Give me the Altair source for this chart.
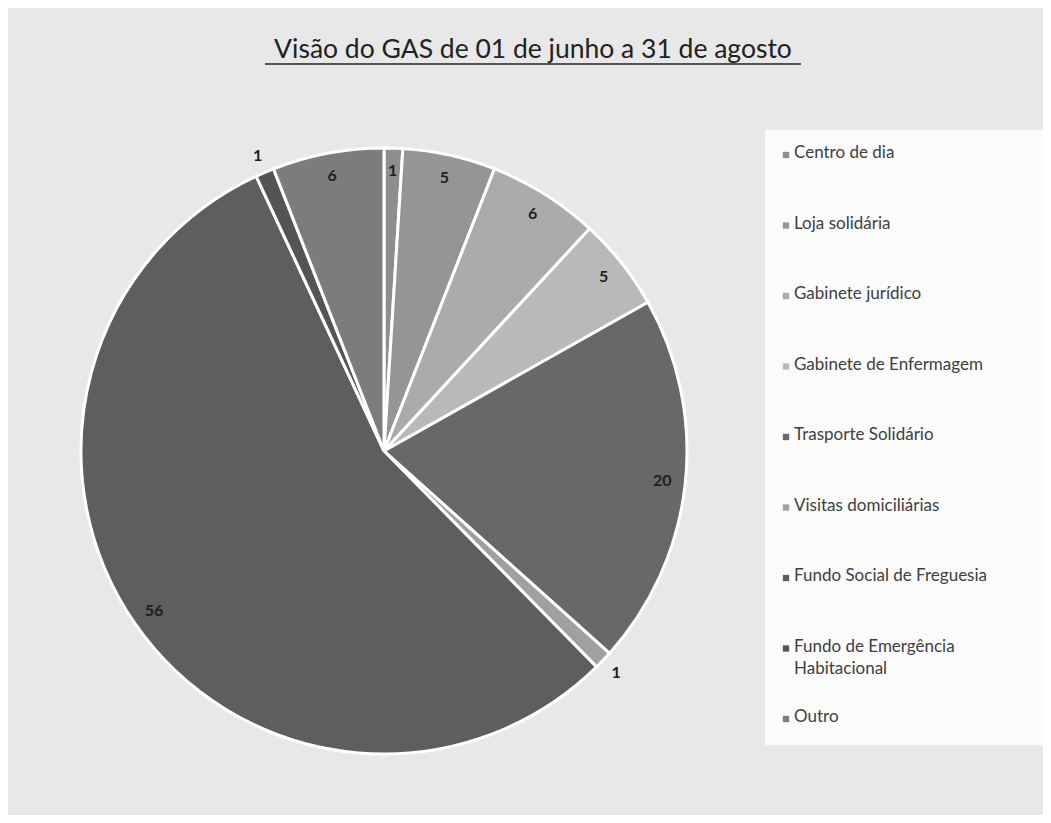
import altair as alt
import pandas as pd

title_text = "Visão do GAS de 01 de junho a 31 de agosto"
categories = [
    "Centro de dia",
    "Loja solidária",
    "Gabinete jurídico",
    "Gabinete de Enfermagem",
    "Trasporte Solidário",
    "Visitas domiciliárias",
    "Fundo Social de Freguesia",
    "Fundo de Emergência Habitacional",
    "Outro",
]
values = [1, 5, 6, 5, 20, 1, 56, 1, 6]
grays = ["#8e8e8e", "#959595", "#ababab", "#b9b9b9", "#686868",
         "#a0a0a0", "#5e5e5e", "#545454", "#7c7c7c"]
outside_labels = ["Visitas domiciliárias", "Fundo de Emergência Habitacional"]

df = pd.DataFrame({"idx": list(range(len(categories))), "category": categories, "value": values})

FONT = "Lato"
CX, CY, R = 376, 443, 303

color = alt.Color("category:N", scale=alt.Scale(domain=categories, range=grays), legend=None)

base = alt.Chart(df).transform_window(
    cum="sum(value)", sort=[alt.SortField("idx")], frame=[None, 0]
).transform_joinaggregate(total="sum(value)").transform_calculate(
    start="(datum.cum - datum.value) / datum.total * 2 * PI",
    end="datum.cum / datum.total * 2 * PI",
).transform_calculate(mid="(datum.start + datum.end) / 2")

arcs = base.mark_arc(outerRadius=R, stroke="white", strokeWidth=3).encode(
    theta=alt.Theta("start:Q", scale=None),
    theta2="end:Q",
    color=color,
    x=alt.value(CX), y=alt.value(CY),
)

label_style = dict(fontSize=16, fontWeight="bold", font=FONT, color="#1e1e1e")
inside = base.transform_filter(
    ~alt.FieldOneOfPredicate(field="category", oneOf=outside_labels)
).mark_text(radius=280, **label_style).encode(
    theta=alt.Theta("mid:Q", scale=None), text="value:Q",
    x=alt.value(CX), y=alt.value(CY),
)
outside = base.transform_filter(
    alt.FieldOneOfPredicate(field="category", oneOf=outside_labels)
).mark_text(radius=321, **label_style).encode(
    theta=alt.Theta("mid:Q", scale=None), text="value:Q",
    x=alt.value(CX), y=alt.value(CY),
)

box_df = pd.DataFrame({"k": [0]})
legend_box = alt.Chart(box_df).mark_rect(color="#fbfbfb").encode(
    x=alt.value(757), x2=alt.value(1037), y=alt.value(122), y2=alt.value(737)
)

yleg = alt.Y("category:N", sort=categories, axis=None,
             scale=alt.Scale(type="point", range=[147, 711], padding=0))
leg_sym = alt.Chart(df).mark_square(size=40, opacity=1).encode(
    y=yleg, x=alt.value(778), color=color
)
leg_txt = alt.Chart(df).transform_calculate(
    lab="datum.category == 'Fundo de Emergência Habitacional' ? 'Fundo de Emergência\\nHabitacional' : datum.category"
).mark_text(align="left", baseline="top", dy=-10, fontSize=17, font=FONT,
            color="#404040", lineBreak="\n", lineHeight=22).encode(
    y=yleg, x=alt.value(786), text="lab:N"
)

title = alt.Chart(box_df).mark_text(fontSize=26.5, font=FONT, color="#222222",
                                    baseline="alphabetic").encode(
    x=alt.value(525), y=alt.value(50), text=alt.value(title_text)
)
underline = alt.Chart(box_df).mark_rule(color="#222222", strokeWidth=1.5).encode(
    x=alt.value(257), x2=alt.value(793), y=alt.value(56)
)

chart = alt.layer(legend_box, arcs, inside, outside, leg_sym, leg_txt, title, underline).properties(
    width=1035, height=807,
    autosize=alt.AutoSizeParams(type="none"),
    padding=0,
).configure(background="#e8e8e8").configure_view(stroke=None)

chart.save("out.html", embed_options={"renderer": "svg", "actions": False})
